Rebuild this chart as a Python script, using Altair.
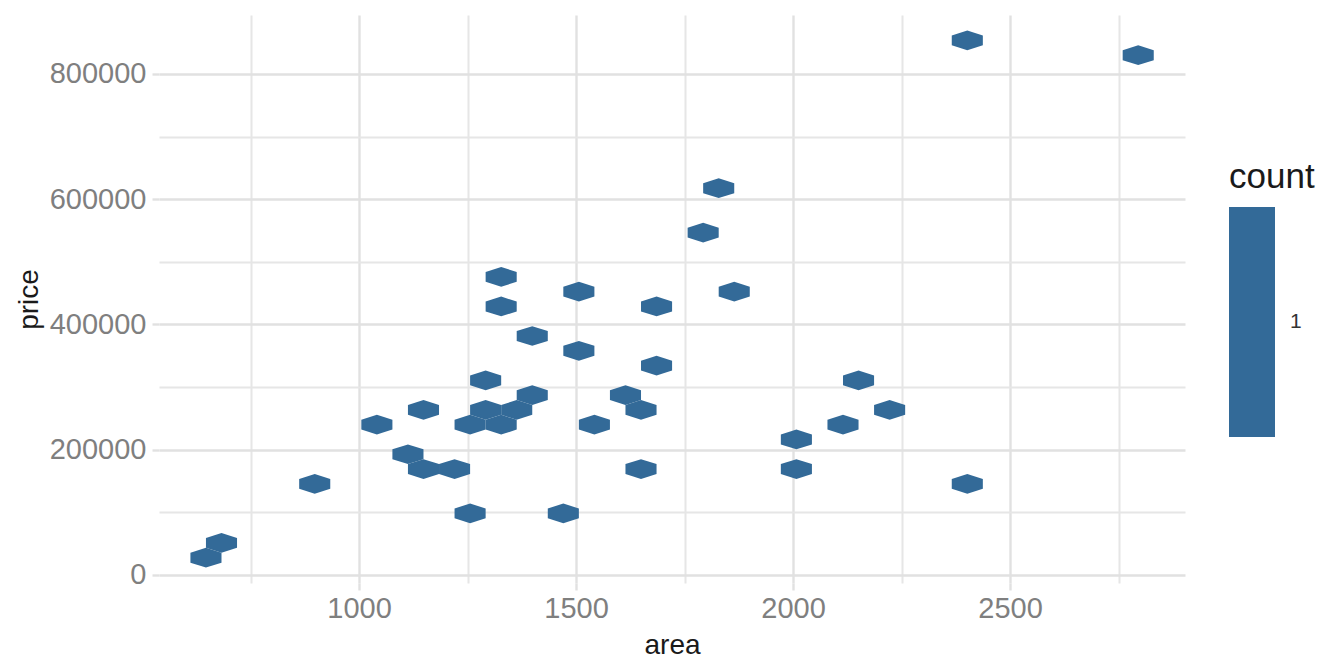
import altair as alt
import pandas as pd

# hexagon bin centres
area = [647.2, 683.0, 897.8, 1041.0, 1112.6, 1148.4, 1148.4, 1220.0, 1255.8, 1255.8,
        1291.6, 1291.6, 1327.4, 1327.4, 1327.4, 1363.2, 1399.0, 1399.0, 1470.6, 1506.4,
        1506.4, 1542.2, 1613.8, 1649.6, 1649.6, 1685.4, 1685.4, 1792.8, 1828.6, 1864.4,
        2007.6, 2007.6, 2115.0, 2150.8, 2222.4, 2401.4, 2401.4, 2795.2]
price = [27600, 51200, 145600, 240000, 192800, 263600, 169200, 169200, 240000, 98400,
         310800, 263600, 240000, 428800, 476000, 263600, 287200, 381600, 98400, 452400,
         358000, 240000, 287200, 263600, 169200, 428800, 334400, 546800, 617600, 452400,
         216400, 169200, 240000, 310800, 263600, 145600, 853600, 830000]
count = [1] * len(area)

x_ticks = [750, 1000, 1250, 1500, 1750, 2000, 2250, 2500, 2750]
y_ticks = [0, 100000, 200000, 300000, 400000, 500000, 600000, 700000, 800000]

df = pd.DataFrame({"area": area, "price": price, "count": count})

FONT = "Liberation Sans"
HEX = "M0,-0.634L1,-0.317L1,0.317L0,0.634L-1,0.317L-1,-0.317Z"
GRID = "#e1e1e1"

def axis(values, step, title, title_pad, label_pad):
    major = f"datum.value % {step} === 0"
    return alt.Axis(
        values=values,
        format="d",
        labelExpr=f"{major} ? datum.label : ''",
        domain=False,
        grid=True,
        gridColor={"condition": {"test": major, "value": GRID}, "value": "#e6e6e6"},
        gridWidth={"condition": {"test": major, "value": 2.4}, "value": 2.0},
        ticks=True,
        tickSize=7,
        tickWidth=2.4,
        tickColor=GRID,
        tickOpacity={"condition": {"test": major, "value": 1}, "value": 0},
        labelFont=FONT,
        labelFontSize=29,
        labelColor="#7f7f7f",
        labelPadding=label_pad,
        labelFlush=False,
        labelOverlap=False,
        title=title,
        titleFont=FONT,
        titleFontSize=28,
        titleFontWeight="normal",
        titleColor="#1a1a1a",
        titlePadding=title_pad,
    )

chart = (
    alt.Chart(df)
    .mark_point(shape=HEX, filled=True, opacity=1, size=966, strokeWidth=0)
    .encode(
        x=alt.X("area:Q", scale=alt.Scale(domain=[539, 2903], nice=False, zero=False),
                axis=axis(x_ticks, 500, "area", 8, 4)),
        y=alt.Y("price:Q", scale=alt.Scale(domain=[-12775, 894200], nice=False, zero=False),
                axis=axis(y_ticks, 200000, "price", 6, 6)),
        fill=alt.Fill(
            "count:Q",
            scale=alt.Scale(domain=[0.5, 1.5], range=["#336A98", "#336A98"]),
            legend=alt.Legend(
                title="count",
                orient="none",
                legendX=1070,
                legendY=145,
                padding=0,
                values=[1],
                format="d",
                gradientLength=230,
                gradientThickness=46,
                gradientStrokeWidth=0,
                titleFont=FONT,
                titleFontSize=35,
                titleFontWeight="normal",
                titleColor="#1a1a1a",
                titlePadding=12,
                labelFont=FONT,
                labelFontSize=21,
                labelColor="#333333",
                labelOffset=15,
            ),
        ),
    )
    .properties(
        width=1026,
        height=568,
        autosize=alt.AutoSizeParams(type="none"),
        padding={"left": 151, "top": 7, "right": 150, "bottom": 80},
    )
    .configure_view(stroke=None)
)

chart.save("out.html", embed_options={"renderer": "svg", "actions": False})
